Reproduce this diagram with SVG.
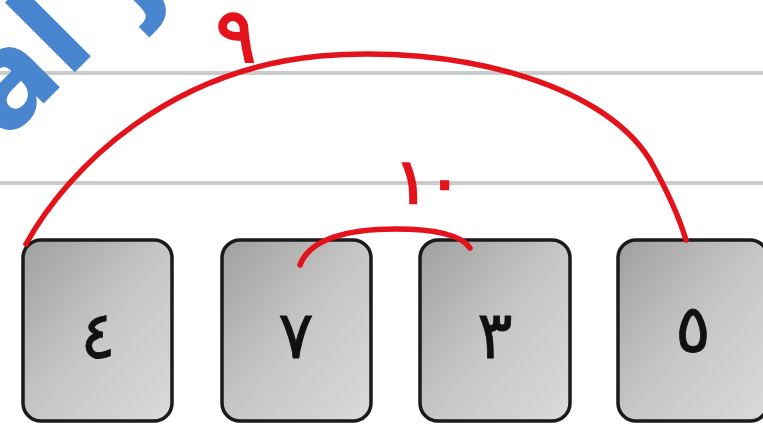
<svg xmlns="http://www.w3.org/2000/svg" width="763" height="428" viewBox="0 0 763 428">
<defs>
<linearGradient id="keyfill" x1="0" y1="0" x2="1" y2="1">
<stop offset="0" stop-color="#9f9f9f"/>
<stop offset="0.5" stop-color="#c6c6c6"/>
<stop offset="1" stop-color="#dadada"/>
</linearGradient>
</defs>
<style>
.key{fill:url(#keyfill);stroke:#1a1a1a;stroke-width:3.5}
.digit{font-family:"DejaVu Sans","Noto Sans",sans-serif;font-size:66px;fill:#111;stroke:#111;stroke-width:0.8;text-anchor:middle}
.rule{stroke:#cbcbcb;stroke-width:4}
.arc{fill:none;stroke:#e3121b;stroke-width:5.5;stroke-linecap:round}
.lbl{font-family:"DejaVu Sans","Noto Sans",sans-serif;fill:#e3121b;stroke:#e3121b;text-anchor:middle}
</style>
<rect width="763" height="428" fill="#ffffff"/>
<g id="rules">
<line class="rule" x1="0" y1="73" x2="763" y2="73"/>
<line class="rule" x1="0" y1="183" x2="763" y2="183"/>
</g>
<text x="5" y="142" transform="rotate(-45 5 142)" font-family="DejaVu Sans, sans-serif" font-weight="bold" font-size="130" fill="#4a86d0">al<tspan dx="48">j</tspan></text>
<g id="key4"><rect class="key" x="23" y="240" width="149" height="181" rx="18"/><text class="digit" x="98" y="358">٤</text></g>
<g id="key7"><rect class="key" x="222" y="240" width="149" height="181" rx="18"/><text class="digit" x="296" y="358">٧</text></g>
<g id="key3"><rect class="key" x="420" y="240" width="150" height="181" rx="18"/><text class="digit" x="495" y="358">٣</text></g>
<g id="key5"><rect class="key" x="618" y="240" width="150" height="181" rx="18"/><text class="digit" x="693" y="352" font-size="50">٥</text></g>
<g id="connectors">
<path class="arc" d="M26,244 C70,165 170,70 320,56 C450,45 600,80 650,160 C668,192 680,220 686,240"/>
<path class="arc" d="M300,265 C310,238 350,229 395,229 C440,229 462,236 470,248"/>
<text class="lbl" x="236" y="62" font-size="76" stroke-width="2">٩</text>
<text class="lbl" x="428" y="203" font-size="62" stroke-width="2.5">١٠</text>
</g>
</svg>
